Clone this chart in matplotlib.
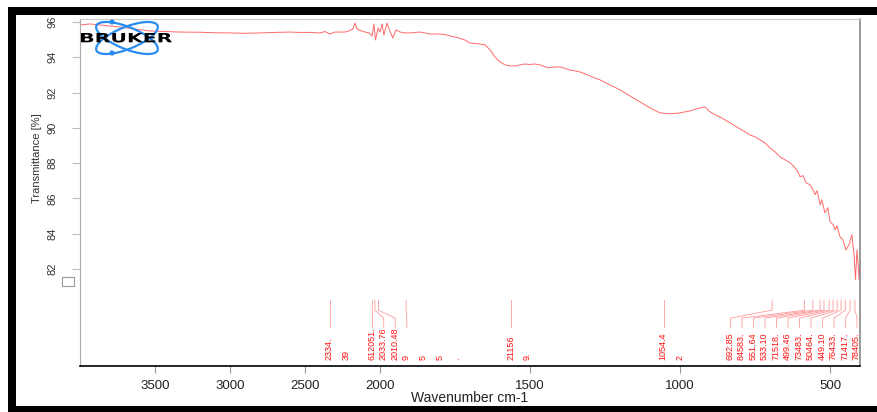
import numpy as np
import matplotlib

matplotlib.use("Agg")
import matplotlib.pyplot as plt
from matplotlib import transforms
from matplotlib.patches import Rectangle, Ellipse, Circle, PathPatch
from matplotlib.textpath import TextPath
from matplotlib.font_manager import FontProperties

# spectrum (wavenumber cm-1, transmittance %)
wavenumber = [
    4000, 3933, 3867, 3800, 3733, 3633, 3533, 3433, 3333, 3200, 3100, 3000,
    2900, 2800, 2700, 2600, 2533, 2467, 2400, 2367, 2333, 2300, 2233, 2200,
    2180, 2167, 2153, 2133, 2100, 2073, 2053, 2040, 2030, 2013, 2000, 1993,
    1987, 1977, 1967, 1957, 1947, 1933, 1917, 1900, 1883, 1867, 1850, 1833,
    1800, 1783, 1767, 1750, 1733, 1717, 1700, 1683, 1667, 1650, 1633, 1617,
    1600, 1583, 1567, 1550, 1533, 1517, 1500, 1483, 1467, 1440, 1417, 1400,
    1367, 1333, 1300, 1267, 1233, 1200, 1167, 1133, 1100, 1067, 1033, 1000,
    967, 933, 917, 900, 883, 867, 850, 833, 817, 800, 783, 767, 750, 733,
    717, 700, 683, 667, 650, 633, 617, 607, 600, 590, 580, 567, 557, 550,
    543, 533, 527, 517, 507, 500, 490, 483, 477, 467, 457, 447, 437, 427,
    420, 415, 410, 407, 403, 400,
]
transmittance = [
    95.83, 95.89, 95.83, 95.77, 95.72, 95.60, 95.49, 95.46, 95.43, 95.42, 95.39, 95.38,
    95.36, 95.38, 95.41, 95.43, 95.41, 95.41, 95.38, 95.46, 95.32, 95.43, 95.43, 95.52,
    95.60, 95.94, 95.60, 95.52, 95.43, 95.38, 95.21, 95.89, 94.98, 95.66, 95.43, 95.89,
    95.26, 95.94, 95.49, 95.09, 95.55, 95.43, 95.38, 95.38, 95.41, 95.43, 95.38, 95.32,
    95.32, 95.29, 95.21, 95.15, 95.07, 94.98, 94.81, 94.78, 94.75, 94.70, 94.42, 94.02,
    93.74, 93.57, 93.51, 93.51, 93.57, 93.62, 93.59, 93.62, 93.57, 93.40, 93.45, 93.45,
    93.28, 93.17, 92.94, 92.72, 92.43, 92.15, 91.81, 91.47, 91.13, 90.85, 90.79, 90.85,
    90.96, 91.13, 91.19, 90.91, 90.74, 90.62, 90.45, 90.28, 90.11, 89.94, 89.77, 89.60,
    89.49, 89.32, 89.15, 88.87, 88.64, 88.36, 88.19, 88.02, 87.74, 87.51, 87.23, 87.29,
    86.89, 86.77, 86.49, 86.21, 86.44, 85.64, 85.92, 85.19, 85.47, 84.68, 84.51, 84.23,
    84.45, 83.83, 83.66, 83.09, 83.37, 83.94, 82.81, 81.40, 83.09, 82.42, 81.40, 82.24,
]

# picked peaks and their labels as printed on the plot
peak_wn = [
    2334.39, 2051.6, 2033.76, 2010.48, 1913.0, 1563.0, 1054.42,
    692.85, 584.83, 557.0, 533.10, 520.0, 503.0, 490.0, 476.0, 463.0, 449.10, 433.0, 417.0,
]
peak_labels = [
    "2334.\n39", "612051.", "2033.76", "2010.48", "9\n5\n5\n.", "21156\n9.", "1054.4\n2",
    "692.85", "84583.", "551.64", "533.10", "71518.", "499.46", "73483.", "50464.",
    "449.10", "76433.", "71417.", "78405.",
]

x_ticks = [3500, 3000, 2500, 2000, 1500, 1000, 500]
y_ticks = [82, 84, 86, 88, 90, 92, 94, 96]


def fwd(x):
    # OPUS style axis: the range above 2000 cm-1 is compressed by half
    x = np.asarray(x, dtype=float)
    return np.where(x > 2000, 2000 + (x - 2000) / 2, x)


def inv(u):
    u = np.asarray(u, dtype=float)
    return np.where(u > 2000, 2000 + (u - 2000) * 2, u)


def spread(px, gap, right):
    """Push label positions apart so they keep a minimum pixel gap."""
    order = np.argsort(px)
    lx = np.asarray(px, dtype=float)[order]
    for i in range(1, len(lx)):
        lx[i] = max(lx[i], lx[i - 1] + gap)
    lx[-1] = min(lx[-1], right)
    for i in range(len(lx) - 2, -1, -1):
        lx[i] = min(lx[i], lx[i + 1] - gap)
    out = np.empty_like(lx)
    out[order] = lx
    return out


plt.rcParams["font.family"] = ["Liberation Sans", "DejaVu Sans"]

W, H = 877, 412
fig = plt.figure(figsize=(W / 100, H / 100), dpi=100)
ax = fig.add_axes([80 / W, (H - 366) / H, 780 / W, 347 / H])

ax.set_xscale("function", functions=(fwd, inv))
ax.set_xlim(4000, 400)
ax.set_ylim(76.5, 96.17)

ax.plot(wavenumber, transmittance, color="#ff6a6a", lw=0.7)

ax.set_xticks(x_ticks)
ax.set_xticklabels([str(t) for t in x_ticks])
ax.set_yticks(y_ticks)
ax.set_yticklabels([str(t) for t in y_ticks], rotation=90, va="center")
ax.minorticks_off()
ax.tick_params(axis="x", direction="out", length=5, color="#999999", pad=5,
               labelsize=9.5, labelcolor="#222222")
ax.tick_params(axis="y", direction="out", length=6, color="#bbbbbb", pad=10,
               labelsize=8, labelcolor="#333333")

ax.spines["bottom"].set_color("black")
ax.spines["bottom"].set_linewidth(1.2)
ax.spines["left"].set_color("#aaaaaa")
ax.spines["top"].set_color("#cccccc")
ax.spines["right"].set_color("#888888")
ax.spines["right"].set_linewidth(1.2)

ax.set_xlabel("Wavenumber cm-1", fontsize=10, color="#222222")
ax.xaxis.set_label_coords(0.5, -0.092)
ax.xaxis.label.set_va("center")
ax.set_ylabel("Transmittance [%]", fontsize=8, color="#333333")
ax.yaxis.set_label_coords(-0.055, 0.60)
ax.yaxis.label.set_va("center")

# peak markers: short tick, kinked connector, label underneath
trans = transforms.blended_transform_factory(ax.transData, ax.transAxes)
peak_px = ax.transData.transform(np.column_stack([peak_wn, np.full(len(peak_wn), 90.0)]))[:, 0]
ax_px = ax.transAxes.transform([[0, 0], [1, 0]])[:, 0]
label_px = spread(peak_px, 11.5, ax_px[1] - 3)
inv_data = ax.transData.inverted()
label_wn = [inv_data.transform((p, 90.0))[0] for p in label_px]

# rotated text: left edge of the first column sits 5 px left of its anchor
text_trans = trans + transforms.ScaledTranslation(-0.05, 0, fig.dpi_scale_trans)
for wn, lwn, text in zip(peak_wn, label_wn, peak_labels):
    ax.plot([wn, wn, lwn, lwn], [0.190, 0.161, 0.138, 0.112], transform=trans,
            color="#ff9a9a", lw=0.6, clip_on=False)
    ax.text(lwn, 0.017, text, transform=text_trans, rotation=90, rotation_mode="anchor",
            ha="left", va="top", fontsize=6.5, color="#ff1010", linespacing=2.1)

# frame around the printout
black = dict(facecolor="black", edgecolor="none", transform=fig.transFigure)
fig.patches.append(Rectangle((8 / W, (H - 15) / H), 1 - 8 / W, 8 / H, **black))
fig.patches.append(Rectangle((8 / W, 0), 8 / W, (H - 7) / H, **black))
fig.patches.append(Rectangle((8 / W, 0), 1 - 8 / W, 6 / H, **black))
fig.patches.append(Rectangle((62 / W, (H - 286) / H), 12 / W, 9 / H, facecolor="none",
                             edgecolor="#999999", lw=0.8, transform=fig.transFigure))

# Bruker logo (display pixels)
pix = transforms.IdentityTransform()
logo_c = (127, H - 38)
for ang in (22, -22):
    fig.patches.append(Ellipse(logo_c, 66, 22, angle=ang, facecolor="none",
                               edgecolor="#2a8cf0", lw=1.6, transform=pix))
for cy in (22, 53):
    fig.patches.append(Circle((112, H - cy), 2.6, facecolor="#2a8cf0",
                              edgecolor="none", transform=pix))
tp = TextPath((0, 0), "BRUKER", size=1, prop=FontProperties(family="DejaVu Sans", weight="bold"))
ext = tp.get_extents()
logo_tf = transforms.Affine2D().translate(-ext.x0, -ext.y0).scale(
    (172 - 81) / ext.width, 9.5 / ext.height).translate(81, H - 42.5)
fig.patches.append(PathPatch(logo_tf.transform_path(tp), facecolor="black",
                             edgecolor="none", transform=pix))

fig.savefig("out.png", dpi=100)
